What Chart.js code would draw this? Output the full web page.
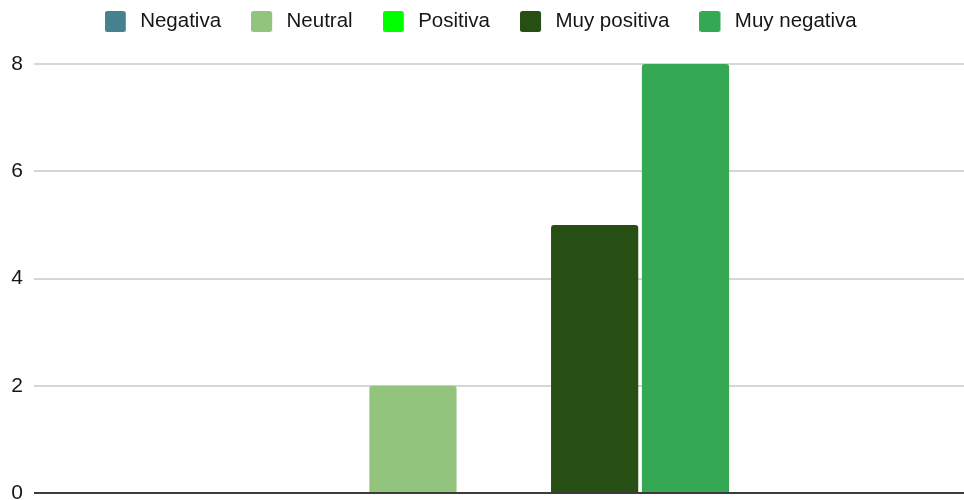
<!DOCTYPE html>
<html>
<head>
<meta charset="utf-8">
<script src="https://cdn.jsdelivr.net/npm/chart.js@4.4.1/dist/chart.umd.min.js"></script>
<style>
  html, body { margin: 0; padding: 0; background: #ffffff; }
  #wrap { width: 964px; height: 500px; position: relative; }
</style>
</head>
<body>
<div id="wrap"><canvas id="c"></canvas></div>
<script>
// ---- data ----
const categories = [''];
const seriesNames = ['Negativa', 'Neutral', 'Positiva', 'Muy positiva', 'Muy negativa'];
const negativa = [0];
const neutral = [2];
const positiva = [0];
const muyPositiva = [5];
const muyNegativa = [8];
const yTickValues = [0, 2, 4, 6, 8];

// ---- styles ----
const seriesColors = ['#45818e', '#93c47d', '#00ff00', '#274e13', '#34a853'];
const FONT = "'Liberation Sans', Arial, Helvetica, sans-serif";
const TEXT = '#161616';

function swatch(color) {
  const c = document.createElement('canvas');
  c.width = 25; c.height = 21;
  const g = c.getContext('2d');
  const r = 2.5, w = 21, h = 21;
  g.fillStyle = color;
  g.beginPath();
  g.moveTo(r, 0); g.lineTo(w - r, 0); g.quadraticCurveTo(w, 0, w, r);
  g.lineTo(w, h - r); g.quadraticCurveTo(w, h, w - r, h);
  g.lineTo(r, h); g.quadraticCurveTo(0, h, 0, h - r);
  g.lineTo(0, r); g.quadraticCurveTo(0, 0, r, 0);
  g.closePath(); g.fill();
  return c;
}
const swatches = seriesColors.map(swatch);

const seriesData = [negativa, neutral, positiva, muyPositiva, muyNegativa];
const datasets = seriesNames.map((name, i) => ({
  label: name,
  data: seriesData[i],
  backgroundColor: seriesColors[i],
  borderWidth: 0,
  borderRadius: 3,
  barPercentage: 0.96,
  categoryPercentage: 0.4935
}));

const legendSpacing = {
  id: 'legendSpacing',
  beforeInit(chart) {
    const fit = chart.legend.fit;
    chart.legend.fit = function () { fit.call(this); this.height = 82.75; };
  }
};

new Chart(document.getElementById('c'), {
  type: 'bar',
  data: { labels: categories, datasets },
  plugins: [legendSpacing],
  options: {
    responsive: true,
    maintainAspectRatio: false,
    animation: false,
    devicePixelRatio: 1,
    layout: { padding: { top: -18.75, left: -2.6, right: 0, bottom: 7 } },
    plugins: {
      tooltip: { enabled: false },
      legend: {
        position: 'top',
        align: 'center',
        labels: {
          usePointStyle: true,
          pointStyleWidth: 25.25,
          padding: 30,
          color: TEXT,
          font: { family: FONT, size: 20.5 },
          generateLabels(chart) {
            const items = Chart.defaults.plugins.legend.labels.generateLabels(chart);
            items.forEach((it, i) => { it.pointStyle = swatches[i]; });
            return items;
          }
        }
      }
    },
    scales: {
      x: {
        display: true,
        grid: { display: false, drawTicks: false },
        ticks: { display: false },
        border: { display: true, color: '#3c3c3c', width: 2, z: 1 }
      },
      y: {
        min: 0,
        max: 8,
        afterBuildTicks(scale) { scale.ticks = yTickValues.map(v => ({ value: v })); },
        afterFit(scale) { scale.width = 46.2; scale.paddingTop = 0; scale.paddingBottom = 0; },
        ticks: {
          padding: 11,
          color: TEXT,
          font: { family: FONT, size: 21 }
        },
        grid: {
          drawTicks: true,
          tickLength: 9.6,
          color: ctx => (ctx.tick && ctx.tick.value === 0) ? '#3c3c3c' : '#d6d6d6',
          lineWidth: 2
        },
        border: { display: false }
      }
    }
  }
});
</script>
</body>
</html>
